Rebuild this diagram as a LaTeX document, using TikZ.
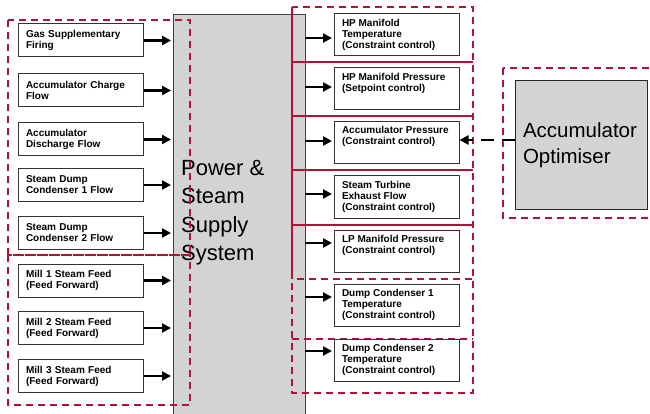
\documentclass[tikz,border=0pt]{standalone}
\usepackage{fontspec}
\setmainfont{Liberation Sans}
\usetikzlibrary{arrows.meta}
\definecolor{grpred}{RGB}{176,18,58}
\definecolor{boxgrey}{RGB}{211,211,211}
\newcommand{\outlines}[1]{\parbox[c][32pt][t]{109pt}{\raggedright #1}}

\begin{document}
\begin{tikzpicture}[x=1pt,y=-1pt]
            \tikzstyle{inbox}=[rectangle, draw=black!80, line width=1pt, minimum width=125pt, minimum height=33pt, text width=109pt, inner xsep=8pt, align=left, font=\fontsize{10}{11}\selectfont\bfseries]
            \tikzstyle{outbox}=[rectangle, draw=black!80, line width=1pt, minimum width=125pt, minimum height=42pt, inner xsep=8pt, inner ysep=0pt, font=\fontsize{10}{11}\selectfont\bfseries]
            \tikzstyle{plant}=[rectangle, fill=boxgrey, draw=black!75, line width=0.9pt, minimum width=132pt, minimum height=416pt]
            \tikzstyle{optbox}=[rectangle, fill=boxgrey, draw=black!85, line width=1pt, minimum width=132pt, minimum height=128pt, text width=116pt, inner xsep=8pt, align=left, font=\fontsize{20.5}{26}\selectfont]
            \tikzstyle{group}=[draw=grpred, line width=1.5pt, dash pattern=on 7pt off 5pt]
            \tikzstyle{divider}=[draw=grpred, line width=1.5pt]
            \tikzstyle{feed}=[line width=2.7pt, -{Triangle[length=9pt,width=9pt]}, shorten >=1.5pt]
            \tikzstyle{advice}=[line width=2.7pt, dash pattern=on 13pt off 8pt, -{Triangle[length=9pt,width=9pt]}]
            \clip (0,0) rectangle (650,414);

            \node[plant] (pss) at (239,222){};
            \node[anchor=north west, inner sep=0pt, align=left, font=\fontsize{22}{28.5}\selectfont] (psslab) at (181,160){Power \&\\Steam\\Supply\\System};

            % manipulated variables
            \draw[group] (8,20) rectangle (190,255);
            \draw[group] (8,255) rectangle (190,405);
            \node[inbox] (L1) at (80.5,40.5){Gas Supplementary\\Firing};
            \node[inbox] (L2) at (80.5,90.5){Accumulator Charge\\Flow};
            \node[inbox] (L3) at (80.5,139.5){Accumulator\\Discharge Flow};
            \node[inbox] (L4) at (80.5,185){Steam Dump\\Condenser 1 Flow};
            \node[inbox] (L5) at (80.5,233){Steam Dump\\Condenser 2 Flow};
            \node[inbox] (L6) at (80.5,280.5){Mill 1 Steam Feed\\(Feed Forward)};
            \node[inbox] (L7) at (80.5,328){Mill 2 Steam Feed\\(Feed Forward)};
            \node[inbox] (L8) at (80.5,376){Mill 3 Steam Feed\\(Feed Forward)};

            % controlled variables
            \draw[group] (292,7) rectangle (473,393);
            \draw[divider] (292,7) -- (292,279);
            \draw[divider] (292,62) -- (473,62);
            \draw[divider] (292,116) -- (473,116);
            \draw[divider] (292,170) -- (473,170);
            \draw[divider] (292,225) -- (473,225);
            \draw[group] (297,279) -- (473,279);
            \draw[group] (292,339) -- (473,339);
            \node[outbox] (R1) at (396.5,35){\outlines{HP Manifold\\Temperature\\(Constraint control)}};
            \node[outbox] (R2) at (396.5,89){\outlines{HP Manifold Pressure\\(Setpoint control)}};
            \node[outbox] (R3) at (396.5,142.5){\outlines{Accumulator Pressure\\(Constraint control)}};
            \node[outbox] (R4) at (396.5,197){\outlines{Steam Turbine\\Exhaust Flow\\(Constraint control)}};
            \node[outbox] (R5) at (396.5,251.5){\outlines{LP Manifold Pressure\\(Constraint control)}};
            \node[outbox] (R6) at (396.5,305.5){\outlines{Dump Condenser 1\\Temperature\\(Constraint control)}};
            \node[outbox] (R7) at (396.5,360.5){\outlines{Dump Condenser 2\\Temperature\\(Constraint control)}};

            % optimiser
            \draw[group] (503,68) rectangle (660,218);
            \node[optbox] (opt) at (581,145){Accumulator\\Optimiser};

            \path (L1) edge [feed] (L1 -| pss.west);
            \path (L2) edge [feed] (L2 -| pss.west);
            \path (L3) edge [feed] (L3 -| pss.west);
            \path (L4) edge [feed] (L4 -| pss.west);
            \path (L5) edge [feed] (L5 -| pss.west);
            \path (L6) edge [feed] (L6 -| pss.west);
            \path (L7) edge [feed] (L7 -| pss.west);
            \path (L8) edge [feed] (L8 -| pss.west);
            \path (pss.east |- 0,38) edge [feed] (R1.west |- 0,38);
            \path (pss.east |- 0,87) edge [feed] (R2.west |- 0,87);
            \path (pss.east |- 0,141) edge [feed] (R3.west |- 0,141);
            \path (pss.east |- 0,194) edge [feed] (R4.west |- 0,194);
            \path (pss.east |- 0,243) edge [feed] (R5.west |- 0,243);
            \path (pss.east |- 0,297) edge [feed] (R6.west |- 0,297);
            \path (pss.east |- 0,351) edge [feed] (R7.west |- 0,351);
            \path (opt.west |- 0,140) edge [advice] (R3.east |- 0,140);
\end{tikzpicture}
\end{document}
